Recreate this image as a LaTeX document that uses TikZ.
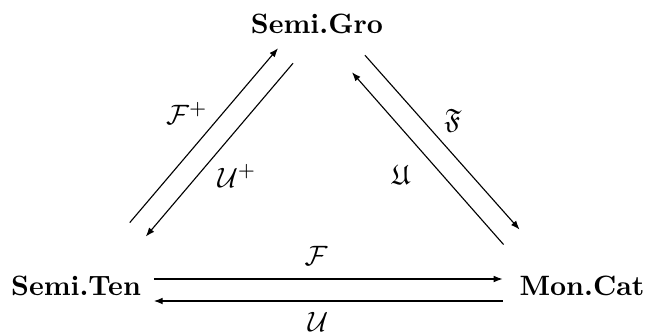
\documentclass[tikz,border=0pt]{standalone}
\usepackage{amsmath,amssymb}
\usepackage{tikz}
\usetikzlibrary{arrows.meta}

\begin{document}
\begin{tikzpicture}[x=0.357pt,y=-0.357pt,
    arr/.style={-{Latex[length=3.2pt,width=2.4pt]},line width=0.4pt}]
  \useasboundingbox (0,0) rectangle (646,335);
  % the three categories
  \node[anchor=base] (gro) at (317,33) {\textbf{Semi.Gro}};
  \node[anchor=base] (ten) at (76,295) {\textbf{Semi.Ten}};
  \node[anchor=base] (cat) at (582,295) {\textbf{Mon.Cat}};
  % bottom pair
  \draw[arr] ([shift={(3,-16)}]ten.base east) -- ([shift={(-7,-16)}]cat.base west);
  \draw[arr] ([shift={(-7,6)}]cat.base west) -- ([shift={(3,6)}]ten.base east);
  \node (lblF) at (316,256) {$\mathcal{F}$};
  \node (lblU) at (318,322) {$\mathcal{U}$};
  % left pair
  \draw[arr] ([shift={(-21,-43)}]ten.north east) -- ([shift={(37,5)}]gro.south west);
  \draw[arr] ([shift={(52,20)}]gro.south west) -- ([shift={(-5,-29)}]ten.north east);
  \node (lblFp) at (187,113) {$\mathcal{F}^+$};
  \node (lblUp) at (237,176) {$\mathcal{U}^+$};
  % right pair
  \draw[arr] ([shift={(-28,12)}]gro.south east) -- ([shift={(10,-36)}]cat.north west);
  \draw[arr] ([shift={(-6,-21)}]cat.north west) -- ([shift={(-41,29)}]gro.south east);
  \node (lblFk) at (453,121) {$\mathfrak{F}$};
  \node (lblUk) at (401,175) {$\mathfrak{U}$};
\end{tikzpicture}
\end{document}
